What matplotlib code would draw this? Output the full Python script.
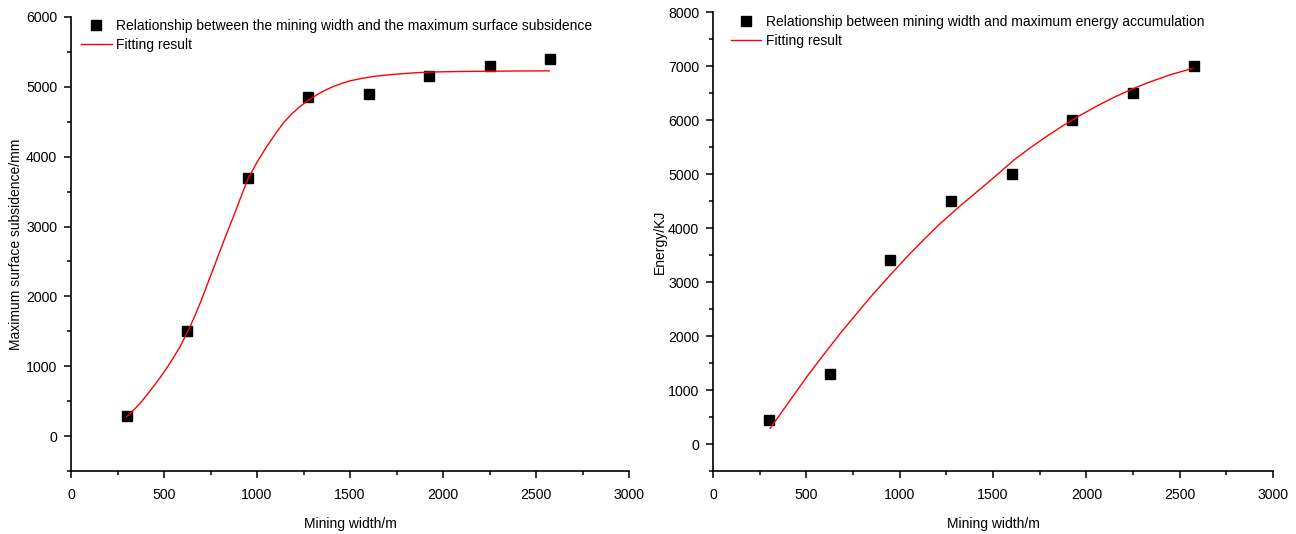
import numpy as np
import matplotlib
matplotlib.use('Agg')
from matplotlib import pyplot as plt
from matplotlib.ticker import MultipleLocator

plt.rcParams['font.family'] = ['Liberation Sans', 'DejaVu Sans']

# measured points (same mining widths for both panels)
width = [300, 625, 950, 1275, 1600, 1925, 2250, 2575]
subsidence = [290, 1500, 3700, 4850, 4900, 5160, 5300, 5400]
energy = [450, 1300, 3400, 4500, 5000, 6000, 6500, 7000]

# fitted curves
fit1_x = [299, 335, 371, 406, 442, 478, 514, 550, 586, 613, 640, 667, 694,
          720, 747, 774, 801, 837, 873, 913, 953, 1002, 1052, 1097, 1141,
          1186, 1231, 1276, 1321, 1365, 1410, 1455, 1500, 1562, 1625, 1700,
          1769, 1860, 1948, 2100, 2250, 2400, 2571]
fit1_y = [277, 368, 468, 582, 706, 834, 970, 1120, 1279, 1420, 1566, 1728,
          1901, 2080, 2270, 2460, 2650, 2900, 3140, 3420, 3692, 3930, 4145,
          4320, 4480, 4610, 4718, 4808, 4885, 4950, 5004, 5048, 5086, 5120,
          5148, 5170, 5186, 5203, 5213, 5220, 5224, 5227, 5229]
fit2_x = [306, 405, 503, 593, 682, 772, 861, 951, 1040, 1129, 1218, 1326,
          1433, 1523, 1612, 1702, 1791, 1881, 1970, 2060, 2149, 2239, 2328,
          2450, 2570]
fit2_y = [290, 770, 1247, 1655, 2050, 2425, 2790, 3135, 3469, 3785, 4086,
          4415, 4725, 4990, 5259, 5491, 5706, 5908, 6093, 6265, 6421, 6563,
          6689, 6838, 6957]

fig = plt.figure(figsize=(12.96, 5.34), dpi=100)
ax1 = fig.add_axes([71/1296, 1-471/534, 558/1296, 454/534])
ax2 = fig.add_axes([713/1296, 1-471/534, 560/1296, 459/534])

def style(ax, ylim, ymaj):
    ax.set_xlim(0, 3000)
    ax.set_ylim(*ylim)
    ax.xaxis.set_major_locator(MultipleLocator(500))
    ax.xaxis.set_minor_locator(MultipleLocator(250))
    ax.yaxis.set_major_locator(MultipleLocator(ymaj))
    ax.yaxis.set_minor_locator(MultipleLocator(ymaj/2))
    for s in ['top', 'right']:
        ax.spines[s].set_visible(False)
    for s in ['left', 'bottom']:
        ax.spines[s].set_linewidth(1.2)
    ax.tick_params(which='major', direction='out', length=5, width=1.1, labelsize=10.2)
    ax.tick_params(which='minor', direction='out', length=3, width=1.1)
    ax.tick_params(axis='x', which='major', pad=7)
    ax.tick_params(axis='y', which='major', pad=5)
    ax.set_xlabel('Mining width/m', fontsize=10, labelpad=11)

ax1.plot(width, subsidence, 's', color='black', ms=7.5,
         label='Relationship between the mining width and the maximum surface subsidence')
ax1.plot(fit1_x, fit1_y, '-', color='red', lw=1, label='Fitting result')
style(ax1, (-500, 6000), 1000)
ax1.set_ylabel('Maximum surface subsidence/mm', fontsize=10, labelpad=2)
ax1.legend(loc='upper left', bbox_to_anchor=(0.018, 0.995), frameon=False,
           fontsize=10, borderpad=0, borderaxespad=0, handlelength=2.2,
           handletextpad=0.35, labelspacing=0.35)

ax2.plot(width, energy, 's', color='black', ms=7.5,
         label='Relationship between mining width and maximum energy accumulation')
ax2.plot(fit2_x, fit2_y, '-', color='red', lw=1, label='Fitting result')
style(ax2, (-500, 8000), 1000)
ax2.set_ylabel('Energy/KJ', fontsize=10, labelpad=1)
ax2.legend(loc='upper left', bbox_to_anchor=(0.032, 0.993), frameon=False,
           fontsize=10, borderpad=0, borderaxespad=0, handlelength=2.2,
           handletextpad=0.35, labelspacing=0.35)

fig.savefig('out.png', dpi=100)
